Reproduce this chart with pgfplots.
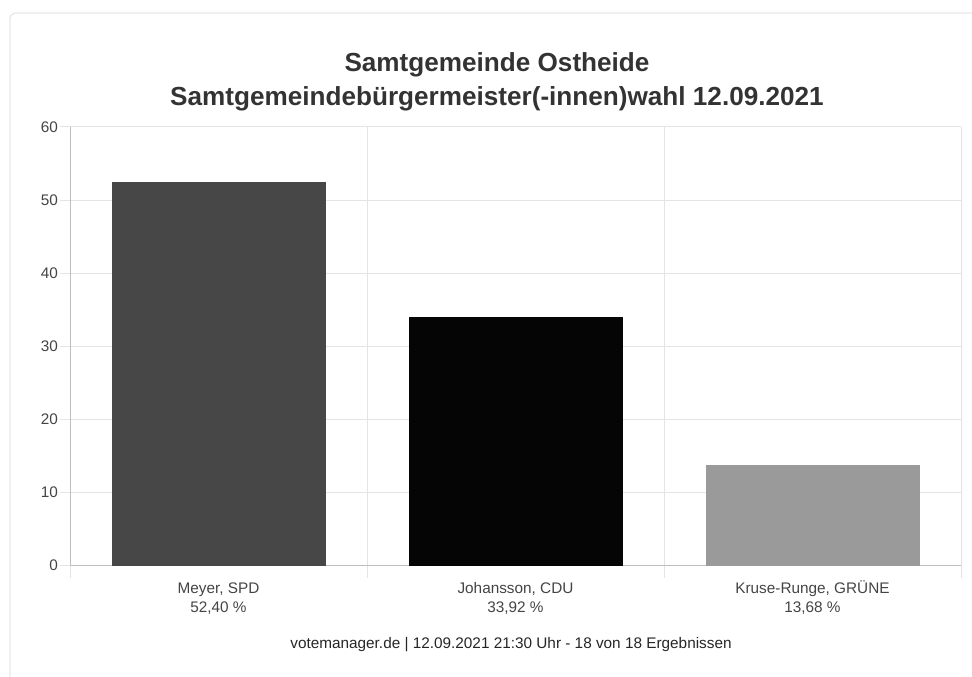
\documentclass[border=0pt]{standalone}
\usepackage{fontspec}
\setmainfont{Liberation Sans}
\usepackage{pgfplots}
\pgfplotsset{compat=1.18}

\definecolor{gridc}{HTML}{E4E4E4}
\definecolor{axc}{HTML}{BDBDBD}
\definecolor{cardc}{HTML}{E8E8E8}
\definecolor{tickc}{HTML}{444444}
\definecolor{titlec}{HTML}{333333}
\definecolor{barA}{HTML}{474747}
\definecolor{barB}{HTML}{050505}
\definecolor{barC}{HTML}{9A9A9A}

\begin{document}
\begin{tikzpicture}[x=1pt,y=1pt]
\useasboundingbox (0,0) rectangle (729,507.75);
% card frame
\draw[cardc, line width=1pt, rounded corners=4pt] (7.5,-10) -- (7.5,498) -- (740,498);

% title
\node[anchor=base, font=\bfseries\fontsize{19.6}{22}\selectfont, text=titlec] at (372.75,453.75) {Samtgemeinde Ostheide};
\node[anchor=base, font=\bfseries\fontsize{19.6}{22}\selectfont, text=titlec] at (372.75,428.25) {Samtgemeindebürgermeister(-innen)wahl 12.09.2021};

\begin{axis}[
    at={(52.5pt,83.5pt)}, anchor=south west,
    scale only axis,
    width=668.25pt, height=329pt,
    xmin=-0.5, xmax=2.5,
    ymin=0, ymax=60,
    ytick={0,10,...,60},
    xtick={0,1,2},
    xticklabels={{\strut Meyer, SPD\\\strut 52,40 \%},{\strut Johansson, CDU\\\strut 33,92 \%},{\strut Kruse-Runge, GRÜNE\\\strut 13,68 \%}},
    minor xtick={-0.5,0.5,1.5,2.5},
    xminorgrids, ymajorgrids,
    grid style={gridc, line width=0.75pt},
    minor grid style={gridc, line width=0.75pt},
    axis lines=left,
    axis line style={-, draw=axc, line width=0.75pt},
    tick align=outside,
    major tick length=7.5pt,
    minor tick length=9pt,
    major x tick style={draw=none},
    minor x tick style={draw=gridc, line width=0.75pt},
    y tick style={draw=gridc, line width=0.75pt},
    ybar,
    bar width=159.75pt,
    every tick label/.append style={font=\fontsize{11.5}{14.25}\selectfont, text=tickc},
    xticklabel style={align=center, inner sep=1pt, yshift=-2.5pt},
    yticklabel style={xshift=2pt},
    /pgf/number format/assume math mode=true,
]
\addplot[bar shift=0pt, fill=barA, draw=barA] coordinates {(0,52.40)};
\addplot[bar shift=0pt, fill=barB, draw=barB] coordinates {(1,33.92)};
\addplot[bar shift=0pt, fill=barC, draw=barC] coordinates {(2,13.68)};
\end{axis}

% source line
\node[anchor=base, font=\fontsize{11.5}{13}\selectfont, text=black!85] at (383.25,21) {votemanager.de | 12.09.2021 21:30 Uhr - 18 von 18 Ergebnissen};
\end{tikzpicture}
\end{document}
